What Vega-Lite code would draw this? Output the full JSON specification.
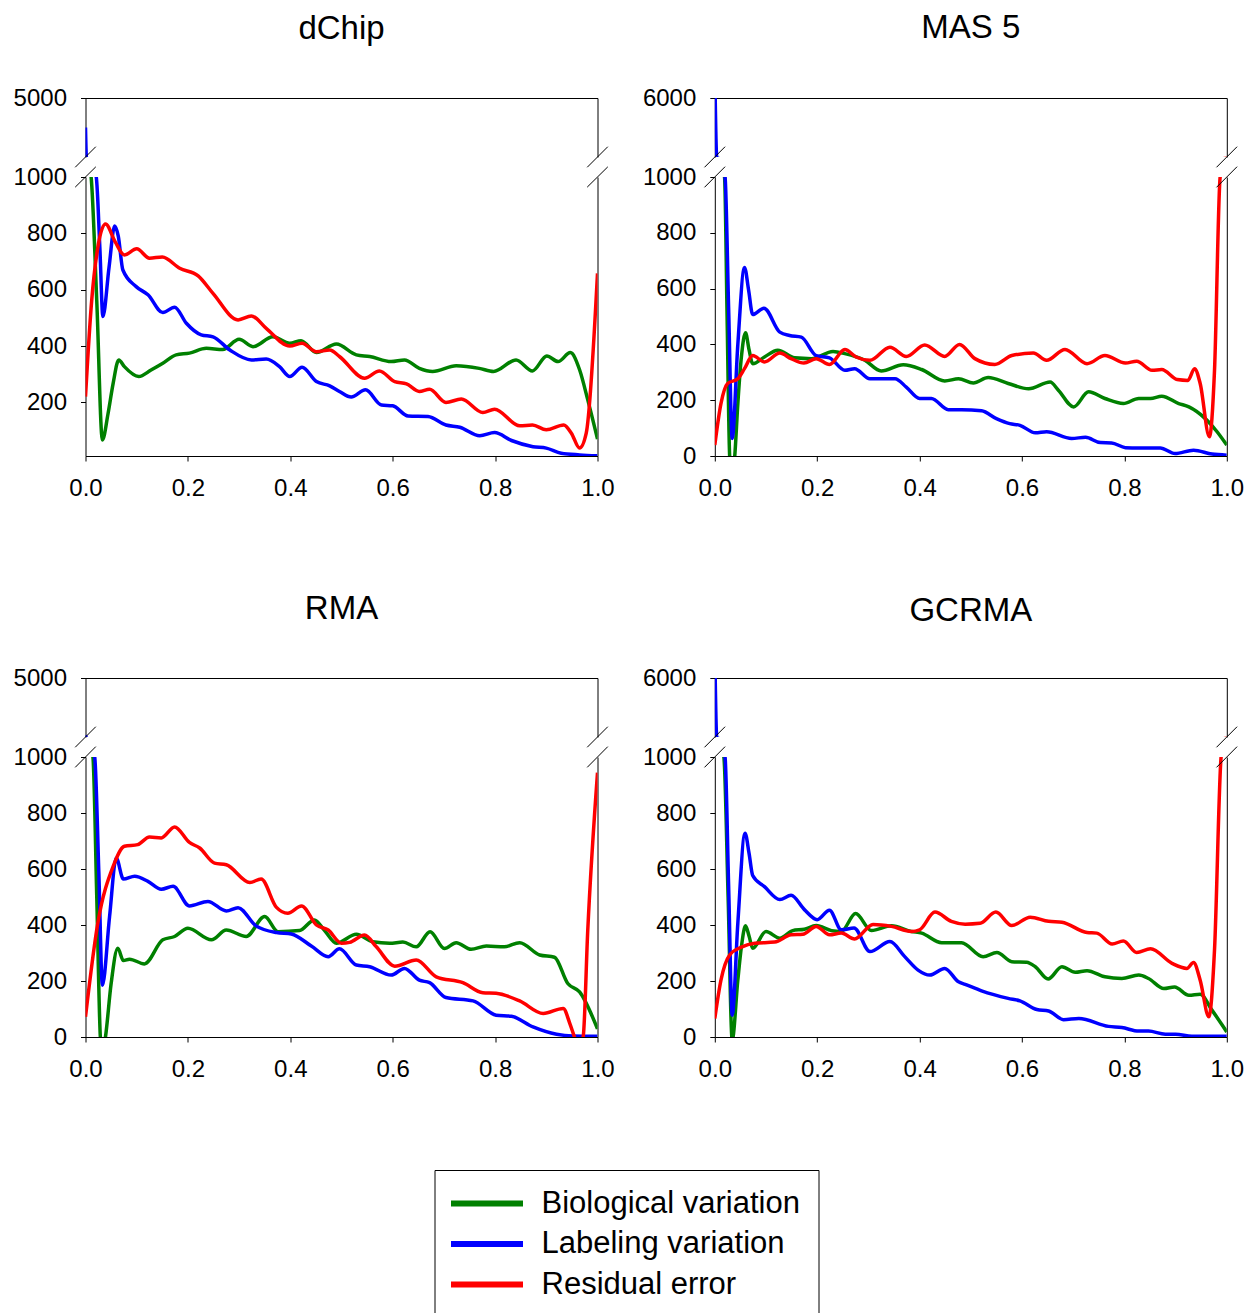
{
"$schema":"https://vega.github.io/schema/vega-lite/v6.json",
"padding":{"left":12.5,"top":12,"right":10,"bottom":0},
"config":{"font":"Liberation Sans","view":{"stroke":null},
"axis":{"grid":false,"domainColor":"#000","domainWidth":1,"tickColor":"#000","tickSize":5,"tickWidth":1,"labelFont":"Liberation Sans","labelFontSize":24,"labelColor":"#000","labelFlush":false,"labelOverlap":false}},
"datasets":{
"dchip":[
{"s":"B","x":0,"y":1100},{"s":"B","x":0.011,"y":1000},{"s":"B","x":0.022,"y":560},{"s":"B","x":0.033,"y":67},{"s":"B","x":0.044,"y":160},{"s":"B","x":0.054,"y":268},{"s":"B","x":0.065,"y":351},{"s":"B","x":0.076,"y":327},{"s":"B","x":0.104,"y":292},{"s":"B","x":0.128,"y":315},{"s":"B","x":0.151,"y":339},{"s":"B","x":0.177,"y":369},{"s":"B","x":0.203,"y":375},{"s":"B","x":0.236,"y":392},{"s":"B","x":0.268,"y":388},{"s":"B","x":0.3,"y":424},{"s":"B","x":0.327,"y":398},{"s":"B","x":0.366,"y":433},{"s":"B","x":0.399,"y":410},{"s":"B","x":0.421,"y":419},{"s":"B","x":0.451,"y":377},{"s":"B","x":0.49,"y":407},{"s":"B","x":0.529,"y":369},{"s":"B","x":0.555,"y":363},{"s":"B","x":0.597,"y":345},{"s":"B","x":0.623,"y":351},{"s":"B","x":0.652,"y":321},{"s":"B","x":0.678,"y":310},{"s":"B","x":0.724,"y":330},{"s":"B","x":0.769,"y":321},{"s":"B","x":0.797,"y":310},{"s":"B","x":0.841,"y":351},{"s":"B","x":0.873,"y":312},{"s":"B","x":0.901,"y":365},{"s":"B","x":0.923,"y":345},{"s":"B","x":0.947,"y":377},{"s":"B","x":0.965,"y":316},{"s":"B","x":0.981,"y":209},{"s":"B","x":1,"y":70},
{"s":"L","x":0,"y":3100},{"s":"L","x":0.002,"y":1100},{"s":"L","x":0.021,"y":1000},{"s":"L","x":0.028,"y":750},{"s":"L","x":0.034,"y":505},{"s":"L","x":0.046,"y":680},{"s":"L","x":0.057,"y":826},{"s":"L","x":0.064,"y":790},{"s":"L","x":0.073,"y":670},{"s":"L","x":0.099,"y":611},{"s":"L","x":0.122,"y":582},{"s":"L","x":0.151,"y":519},{"s":"L","x":0.174,"y":538},{"s":"L","x":0.197,"y":481},{"s":"L","x":0.226,"y":440},{"s":"L","x":0.249,"y":433},{"s":"L","x":0.282,"y":386},{"s":"L","x":0.324,"y":351},{"s":"L","x":0.353,"y":354},{"s":"L","x":0.379,"y":327},{"s":"L","x":0.399,"y":292},{"s":"L","x":0.423,"y":325},{"s":"L","x":0.451,"y":274},{"s":"L","x":0.477,"y":259},{"s":"L","x":0.496,"y":239},{"s":"L","x":0.519,"y":219},{"s":"L","x":0.547,"y":245},{"s":"L","x":0.578,"y":191},{"s":"L","x":0.6,"y":188},{"s":"L","x":0.63,"y":152},{"s":"L","x":0.669,"y":150},{"s":"L","x":0.704,"y":120},{"s":"L","x":0.731,"y":112},{"s":"L","x":0.77,"y":82},{"s":"L","x":0.799,"y":93},{"s":"L","x":0.832,"y":65},{"s":"L","x":0.874,"y":43},{"s":"L","x":0.9,"y":38},{"s":"L","x":0.929,"y":20},{"s":"L","x":0.965,"y":14},{"s":"L","x":1,"y":11},
{"s":"R","x":0,"y":221},{"s":"R","x":0.012,"y":560},{"s":"R","x":0.025,"y":760},{"s":"R","x":0.039,"y":833},{"s":"R","x":0.058,"y":770},{"s":"R","x":0.076,"y":723},{"s":"R","x":0.1,"y":745},{"s":"R","x":0.125,"y":712},{"s":"R","x":0.15,"y":716},{"s":"R","x":0.184,"y":676},{"s":"R","x":0.22,"y":649},{"s":"R","x":0.249,"y":587},{"s":"R","x":0.298,"y":493},{"s":"R","x":0.324,"y":507},{"s":"R","x":0.353,"y":463},{"s":"R","x":0.399,"y":400},{"s":"R","x":0.423,"y":410},{"s":"R","x":0.451,"y":380},{"s":"R","x":0.477,"y":386},{"s":"R","x":0.496,"y":363},{"s":"R","x":0.545,"y":286},{"s":"R","x":0.574,"y":312},{"s":"R","x":0.604,"y":274},{"s":"R","x":0.627,"y":266},{"s":"R","x":0.652,"y":239},{"s":"R","x":0.672,"y":247},{"s":"R","x":0.704,"y":200},{"s":"R","x":0.734,"y":212},{"s":"R","x":0.776,"y":164},{"s":"R","x":0.799,"y":176},{"s":"R","x":0.848,"y":117},{"s":"R","x":0.873,"y":120},{"s":"R","x":0.9,"y":103},{"s":"R","x":0.934,"y":120},{"s":"R","x":0.949,"y":91},{"s":"R","x":0.965,"y":38},{"s":"R","x":0.978,"y":91},{"s":"R","x":1,"y":658}
],
"mas5":[
{"s":"B","x":0,"y":1100},{"s":"B","x":0.019,"y":1000},{"s":"B","x":0.024,"y":500},{"s":"B","x":0.029,"y":0},{"s":"B","x":0.034,"y":-90},{"s":"B","x":0.039,"y":0},{"s":"B","x":0.045,"y":188},{"s":"B","x":0.052,"y":356},{"s":"B","x":0.06,"y":442},{"s":"B","x":0.067,"y":380},{"s":"B","x":0.074,"y":331},{"s":"B","x":0.097,"y":355},{"s":"B","x":0.123,"y":379},{"s":"B","x":0.156,"y":352},{"s":"B","x":0.189,"y":349},{"s":"B","x":0.231,"y":375},{"s":"B","x":0.254,"y":367},{"s":"B","x":0.293,"y":343},{"s":"B","x":0.325,"y":305},{"s":"B","x":0.368,"y":327},{"s":"B","x":0.404,"y":310},{"s":"B","x":0.449,"y":269},{"s":"B","x":0.476,"y":277},{"s":"B","x":0.505,"y":262},{"s":"B","x":0.534,"y":281},{"s":"B","x":0.573,"y":260},{"s":"B","x":0.613,"y":241},{"s":"B","x":0.655,"y":265},{"s":"B","x":0.671,"y":236},{"s":"B","x":0.701,"y":176},{"s":"B","x":0.73,"y":230},{"s":"B","x":0.762,"y":206},{"s":"B","x":0.798,"y":188},{"s":"B","x":0.828,"y":206},{"s":"B","x":0.851,"y":206},{"s":"B","x":0.873,"y":214},{"s":"B","x":0.906,"y":188},{"s":"B","x":0.926,"y":176},{"s":"B","x":0.958,"y":134},{"s":"B","x":0.981,"y":87},{"s":"B","x":1,"y":39},
{"s":"L","x":0,"y":8000},{"s":"L","x":0.004,"y":1100},{"s":"L","x":0.02,"y":1000},{"s":"L","x":0.027,"y":530},{"s":"L","x":0.034,"y":63},{"s":"L","x":0.045,"y":400},{"s":"L","x":0.058,"y":676},{"s":"L","x":0.066,"y":595},{"s":"L","x":0.074,"y":507},{"s":"L","x":0.096,"y":530},{"s":"L","x":0.127,"y":444},{"s":"L","x":0.146,"y":432},{"s":"L","x":0.169,"y":426},{"s":"L","x":0.198,"y":360},{"s":"L","x":0.224,"y":352},{"s":"L","x":0.254,"y":307},{"s":"L","x":0.273,"y":313},{"s":"L","x":0.303,"y":277},{"s":"L","x":0.352,"y":277},{"s":"L","x":0.374,"y":247},{"s":"L","x":0.4,"y":206},{"s":"L","x":0.423,"y":206},{"s":"L","x":0.456,"y":166},{"s":"L","x":0.482,"y":166},{"s":"L","x":0.521,"y":162},{"s":"L","x":0.55,"y":134},{"s":"L","x":0.576,"y":116},{"s":"L","x":0.596,"y":110},{"s":"L","x":0.626,"y":83},{"s":"L","x":0.648,"y":87},{"s":"L","x":0.697,"y":63},{"s":"L","x":0.724,"y":67},{"s":"L","x":0.753,"y":48},{"s":"L","x":0.775,"y":47},{"s":"L","x":0.802,"y":30},{"s":"L","x":0.828,"y":29},{"s":"L","x":0.87,"y":29},{"s":"L","x":0.899,"y":9},{"s":"L","x":0.935,"y":21},{"s":"L","x":0.971,"y":7},{"s":"L","x":1,"y":3},
{"s":"R","x":0,"y":39},{"s":"R","x":0.012,"y":188},{"s":"R","x":0.025,"y":260},{"s":"R","x":0.045,"y":277},{"s":"R","x":0.058,"y":313},{"s":"R","x":0.074,"y":360},{"s":"R","x":0.097,"y":337},{"s":"R","x":0.127,"y":369},{"s":"R","x":0.149,"y":349},{"s":"R","x":0.174,"y":333},{"s":"R","x":0.198,"y":349},{"s":"R","x":0.224,"y":328},{"s":"R","x":0.254,"y":382},{"s":"R","x":0.276,"y":355},{"s":"R","x":0.303,"y":343},{"s":"R","x":0.342,"y":390},{"s":"R","x":0.374,"y":357},{"s":"R","x":0.41,"y":398},{"s":"R","x":0.449,"y":357},{"s":"R","x":0.478,"y":400},{"s":"R","x":0.508,"y":349},{"s":"R","x":0.547,"y":328},{"s":"R","x":0.58,"y":360},{"s":"R","x":0.622,"y":369},{"s":"R","x":0.648,"y":343},{"s":"R","x":0.684,"y":382},{"s":"R","x":0.727,"y":331},{"s":"R","x":0.762,"y":360},{"s":"R","x":0.802,"y":333},{"s":"R","x":0.824,"y":340},{"s":"R","x":0.854,"y":307},{"s":"R","x":0.873,"y":310},{"s":"R","x":0.903,"y":274},{"s":"R","x":0.924,"y":271},{"s":"R","x":0.937,"y":313},{"s":"R","x":0.948,"y":260},{"s":"R","x":0.966,"y":69},{"s":"R","x":0.976,"y":307},{"s":"R","x":0.987,"y":1000},{"s":"R","x":1,"y":1100}
],
"rma":[
{"s":"B","x":0,"y":1100},{"s":"B","x":0.0145,"y":1000},{"s":"B","x":0.022,"y":500},{"s":"B","x":0.029,"y":0},{"s":"B","x":0.033,"y":-60},{"s":"B","x":0.039,"y":0},{"s":"B","x":0.05,"y":190},{"s":"B","x":0.063,"y":317},{"s":"B","x":0.074,"y":273},{"s":"B","x":0.086,"y":278},{"s":"B","x":0.115,"y":261},{"s":"B","x":0.151,"y":347},{"s":"B","x":0.174,"y":359},{"s":"B","x":0.2,"y":388},{"s":"B","x":0.246,"y":347},{"s":"B","x":0.275,"y":382},{"s":"B","x":0.314,"y":359},{"s":"B","x":0.35,"y":430},{"s":"B","x":0.376,"y":376},{"s":"B","x":0.418,"y":380},{"s":"B","x":0.447,"y":418},{"s":"B","x":0.467,"y":380},{"s":"B","x":0.49,"y":335},{"s":"B","x":0.529,"y":367},{"s":"B","x":0.561,"y":340},{"s":"B","x":0.594,"y":335},{"s":"B","x":0.62,"y":339},{"s":"B","x":0.646,"y":322},{"s":"B","x":0.673,"y":376},{"s":"B","x":0.701,"y":316},{"s":"B","x":0.724,"y":337},{"s":"B","x":0.753,"y":313},{"s":"B","x":0.783,"y":325},{"s":"B","x":0.818,"y":322},{"s":"B","x":0.848,"y":337},{"s":"B","x":0.887,"y":293},{"s":"B","x":0.916,"y":285},{"s":"B","x":0.942,"y":191},{"s":"B","x":0.965,"y":161},{"s":"B","x":1,"y":29},
{"s":"L","x":0,"y":1300},{"s":"L","x":0.003,"y":1100},{"s":"L","x":0.018,"y":1000},{"s":"L","x":0.026,"y":590},{"s":"L","x":0.033,"y":185},{"s":"L","x":0.047,"y":430},{"s":"L","x":0.06,"y":639},{"s":"L","x":0.074,"y":564},{"s":"L","x":0.096,"y":574},{"s":"L","x":0.122,"y":556},{"s":"L","x":0.148,"y":528},{"s":"L","x":0.171,"y":538},{"s":"L","x":0.203,"y":468},{"s":"L","x":0.239,"y":484},{"s":"L","x":0.275,"y":450},{"s":"L","x":0.298,"y":462},{"s":"L","x":0.333,"y":397},{"s":"L","x":0.373,"y":373},{"s":"L","x":0.402,"y":368},{"s":"L","x":0.441,"y":325},{"s":"L","x":0.474,"y":287},{"s":"L","x":0.496,"y":315},{"s":"L","x":0.529,"y":257},{"s":"L","x":0.555,"y":251},{"s":"L","x":0.597,"y":221},{"s":"L","x":0.623,"y":245},{"s":"L","x":0.652,"y":203},{"s":"L","x":0.672,"y":194},{"s":"L","x":0.704,"y":141},{"s":"L","x":0.757,"y":129},{"s":"L","x":0.802,"y":78},{"s":"L","x":0.832,"y":74},{"s":"L","x":0.874,"y":36},{"s":"L","x":0.92,"y":10},{"s":"L","x":0.952,"y":4},{"s":"L","x":1,"y":3},
{"s":"R","x":0,"y":72},{"s":"R","x":0.024,"y":406},{"s":"R","x":0.054,"y":609},{"s":"R","x":0.076,"y":681},{"s":"R","x":0.102,"y":687},{"s":"R","x":0.125,"y":714},{"s":"R","x":0.148,"y":711},{"s":"R","x":0.174,"y":750},{"s":"R","x":0.203,"y":695},{"s":"R","x":0.223,"y":675},{"s":"R","x":0.252,"y":621},{"s":"R","x":0.275,"y":615},{"s":"R","x":0.321,"y":552},{"s":"R","x":0.343,"y":564},{"s":"R","x":0.373,"y":463},{"s":"R","x":0.395,"y":442},{"s":"R","x":0.422,"y":468},{"s":"R","x":0.451,"y":400},{"s":"R","x":0.474,"y":382},{"s":"R","x":0.5,"y":335},{"s":"R","x":0.516,"y":338},{"s":"R","x":0.545,"y":364},{"s":"R","x":0.568,"y":322},{"s":"R","x":0.604,"y":253},{"s":"R","x":0.646,"y":275},{"s":"R","x":0.685,"y":215},{"s":"R","x":0.737,"y":194},{"s":"R","x":0.776,"y":158},{"s":"R","x":0.802,"y":156},{"s":"R","x":0.848,"y":129},{"s":"R","x":0.894,"y":84},{"s":"R","x":0.933,"y":102},{"s":"R","x":0.946,"y":48},{"s":"R","x":0.955,"y":0},{"s":"R","x":0.963,"y":-40},{"s":"R","x":0.972,"y":0},{"s":"R","x":0.981,"y":382},{"s":"R","x":1,"y":944}
],
"gcrma":[
{"s":"B","x":0,"y":1100},{"s":"B","x":0.0177,"y":1000},{"s":"B","x":0.026,"y":500},{"s":"B","x":0.034,"y":-10},{"s":"B","x":0.045,"y":204},{"s":"B","x":0.052,"y":323},{"s":"B","x":0.06,"y":397},{"s":"B","x":0.067,"y":360},{"s":"B","x":0.074,"y":317},{"s":"B","x":0.1,"y":377},{"s":"B","x":0.127,"y":353},{"s":"B","x":0.152,"y":380},{"s":"B","x":0.175,"y":385},{"s":"B","x":0.198,"y":398},{"s":"B","x":0.228,"y":380},{"s":"B","x":0.247,"y":377},{"s":"B","x":0.275,"y":441},{"s":"B","x":0.306,"y":380},{"s":"B","x":0.345,"y":397},{"s":"B","x":0.384,"y":377},{"s":"B","x":0.404,"y":371},{"s":"B","x":0.443,"y":337},{"s":"B","x":0.482,"y":337},{"s":"B","x":0.524,"y":287},{"s":"B","x":0.551,"y":302},{"s":"B","x":0.58,"y":269},{"s":"B","x":0.609,"y":267},{"s":"B","x":0.626,"y":251},{"s":"B","x":0.651,"y":207},{"s":"B","x":0.678,"y":251},{"s":"B","x":0.704,"y":231},{"s":"B","x":0.727,"y":237},{"s":"B","x":0.762,"y":215},{"s":"B","x":0.795,"y":209},{"s":"B","x":0.828,"y":221},{"s":"B","x":0.847,"y":209},{"s":"B","x":0.877,"y":173},{"s":"B","x":0.898,"y":179},{"s":"B","x":0.926,"y":149},{"s":"B","x":0.948,"y":153},{"s":"B","x":0.971,"y":96},{"s":"B","x":1,"y":18},
{"s":"L","x":0,"y":8000},{"s":"L","x":0.004,"y":1100},{"s":"L","x":0.02,"y":1000},{"s":"L","x":0.027,"y":540},{"s":"L","x":0.034,"y":78},{"s":"L","x":0.045,"y":407},{"s":"L","x":0.059,"y":728},{"s":"L","x":0.067,"y":655},{"s":"L","x":0.074,"y":577},{"s":"L","x":0.097,"y":537},{"s":"L","x":0.127,"y":491},{"s":"L","x":0.149,"y":506},{"s":"L","x":0.175,"y":455},{"s":"L","x":0.2,"y":419},{"s":"L","x":0.224,"y":453},{"s":"L","x":0.247,"y":383},{"s":"L","x":0.272,"y":389},{"s":"L","x":0.303,"y":305},{"s":"L","x":0.342,"y":341},{"s":"L","x":0.371,"y":287},{"s":"L","x":0.397,"y":239},{"s":"L","x":0.42,"y":221},{"s":"L","x":0.449,"y":245},{"s":"L","x":0.476,"y":197},{"s":"L","x":0.489,"y":188},{"s":"L","x":0.521,"y":165},{"s":"L","x":0.573,"y":138},{"s":"L","x":0.596,"y":129},{"s":"L","x":0.629,"y":98},{"s":"L","x":0.652,"y":93},{"s":"L","x":0.681,"y":62},{"s":"L","x":0.711,"y":66},{"s":"L","x":0.769,"y":38},{"s":"L","x":0.795,"y":34},{"s":"L","x":0.828,"y":21},{"s":"L","x":0.847,"y":21},{"s":"L","x":0.88,"y":10},{"s":"L","x":0.9,"y":10},{"s":"L","x":0.932,"y":3},{"s":"L","x":1,"y":3},
{"s":"R","x":0,"y":66},{"s":"R","x":0.012,"y":203},{"s":"R","x":0.029,"y":293},{"s":"R","x":0.052,"y":321},{"s":"R","x":0.078,"y":335},{"s":"R","x":0.117,"y":339},{"s":"R","x":0.149,"y":365},{"s":"R","x":0.172,"y":367},{"s":"R","x":0.198,"y":395},{"s":"R","x":0.224,"y":365},{"s":"R","x":0.247,"y":371},{"s":"R","x":0.273,"y":350},{"s":"R","x":0.309,"y":402},{"s":"R","x":0.345,"y":395},{"s":"R","x":0.384,"y":377},{"s":"R","x":0.4,"y":383},{"s":"R","x":0.43,"y":446},{"s":"R","x":0.462,"y":413},{"s":"R","x":0.489,"y":403},{"s":"R","x":0.518,"y":406},{"s":"R","x":0.549,"y":446},{"s":"R","x":0.58,"y":398},{"s":"R","x":0.616,"y":428},{"s":"R","x":0.652,"y":413},{"s":"R","x":0.678,"y":410},{"s":"R","x":0.727,"y":373},{"s":"R","x":0.746,"y":371},{"s":"R","x":0.776,"y":332},{"s":"R","x":0.798,"y":343},{"s":"R","x":0.824,"y":302},{"s":"R","x":0.851,"y":315},{"s":"R","x":0.893,"y":263},{"s":"R","x":0.922,"y":245},{"s":"R","x":0.935,"y":266},{"s":"R","x":0.948,"y":203},{"s":"R","x":0.965,"y":72},{"s":"R","x":0.976,"y":311},{"s":"R","x":0.989,"y":1003},{"s":"R","x":1,"y":1100}
]
},
"spacing":93,
"vconcat":[
{"spacing":27.3,"hconcat":[
{"spacing":20,"bounds":"flush","vconcat":[
{"width":512,"height":59,
"title":{"text":"dChip","fontSize":33,"fontWeight":"normal","font":"Liberation Sans","anchor":"middle","frame":"group","offset":14,"baseline":"alphabetic","color":"#000"},
"resolve":{"axis":{"y":"independent"}},
"layer":[
{"data":{"name":"dchip"},"mark":{"type":"line","interpolate":"monotone","clip":true,"strokeWidth":3.5},
"encoding":{"x":{"field":"x","type":"quantitative","scale":{"domain":[0,1],"nice":false},"axis":{"orient":"top","labels":false,"ticks":false,"title":null}},
"y":{"field":"y","type":"quantitative","scale":{"domain":[1200,5000],"nice":false,"zero":false},"axis":{"values":[5000],"format":"d","title":null,"labelPadding":14}},
"color":{"field":"s","type":"nominal","scale":{"domain":["B","L","R"],"range":["#008000","#0000ff","#ff0000"]},"legend":{"orient":"none","legendX":349,"legendY":1072,"title":null,"labelExpr":"datum.label == 'B' ? 'Biological variation' : datum.label == 'L' ? 'Labeling variation' : 'Residual error'","labelFont":"Liberation Sans","labelFontSize":31,"labelColor":"#000","labelLimit":0,"symbolType":"M-5,0H1","symbolSize":576,"symbolStrokeWidth":6,"symbolOffset":43,"labelOffset":15,"padding":18,"rowPadding":8.5,"strokeColor":"#000","fillColor":"#fff"}}}},
{"data":{"values":[{}]},"mark":{"type":"rule","color":"#000","strokeWidth":1},"encoding":{"x":{"datum":-0.0201,"type":"quantitative","axis":{"orient":"top","labels":false,"ticks":false,"title":null}},"x2":{"datum":0.0201},"y":{"datum":537,"type":"quantitative","axis":null},"y2":{"datum":1863}}},
{"data":{"values":[{}]},"mark":{"type":"rule","color":"#000","strokeWidth":1},"encoding":{"x":{"datum":0.9799,"type":"quantitative","axis":{"orient":"top","labels":false,"ticks":false,"title":null}},"x2":{"datum":1.0201},"y":{"datum":537,"type":"quantitative","axis":{"orient":"right","labels":false,"ticks":false,"title":null}},"y2":{"datum":1863}}}
]},
{"width":512,"height":279,
"resolve":{"axis":{"y":"independent"}},
"layer":[
{"data":{"name":"dchip"},"mark":{"type":"line","interpolate":"monotone","clip":true,"strokeWidth":3.5},
"encoding":{"x":{"field":"x","type":"quantitative","scale":{"domain":[0,1],"nice":false},"axis":{"values":[0,0.2,0.4,0.6,0.8,1],"format":".1f","title":null,"labelPadding":15}},
"y":{"field":"y","type":"quantitative","scale":{"domain":[10,1000],"nice":false,"zero":false},"axis":{"values":[200,400,600,800,1000],"format":"d","title":null,"labelPadding":14}},
"color":{"field":"s","type":"nominal","scale":{"domain":["B","L","R"],"range":["#008000","#0000ff","#ff0000"]},"legend":{"orient":"none","legendX":349,"legendY":1072,"title":null,"labelExpr":"datum.label == 'B' ? 'Biological variation' : datum.label == 'L' ? 'Labeling variation' : 'Residual error'","labelFont":"Liberation Sans","labelFontSize":31,"labelColor":"#000","labelLimit":0,"symbolType":"M-5,0H1","symbolSize":576,"symbolStrokeWidth":6,"symbolOffset":43,"labelOffset":15,"padding":18,"rowPadding":8.5,"strokeColor":"#000","fillColor":"#fff"}}}},
{"data":{"values":[{}]},"mark":{"type":"rule","color":"#000","strokeWidth":1},"encoding":{"x":{"datum":-0.0201,"type":"quantitative","axis":{"values":[0,0.2,0.4,0.6,0.8,1],"format":".1f","title":null,"labelPadding":15}},"x2":{"datum":0.0201},"y":{"datum":964,"type":"quantitative","axis":null},"y2":{"datum":1036}}},
{"data":{"values":[{}]},"mark":{"type":"rule","color":"#000","strokeWidth":1},"encoding":{"x":{"datum":0.9799,"type":"quantitative","axis":{"values":[0,0.2,0.4,0.6,0.8,1],"format":".1f","title":null,"labelPadding":15}},"x2":{"datum":1.0201},"y":{"datum":964,"type":"quantitative","axis":{"orient":"right","labels":false,"ticks":false,"title":null}},"y2":{"datum":1036}}}
]}
]},
{"spacing":20,"bounds":"flush","vconcat":[
{"width":512,"height":59,
"title":{"text":"MAS 5","fontSize":33,"fontWeight":"normal","font":"Liberation Sans","anchor":"middle","frame":"group","offset":15,"baseline":"alphabetic","color":"#000"},
"resolve":{"axis":{"y":"independent"}},
"layer":[
{"data":{"name":"mas5"},"mark":{"type":"line","interpolate":"monotone","clip":true,"strokeWidth":3.5},
"encoding":{"x":{"field":"x","type":"quantitative","scale":{"domain":[0,1],"nice":false},"axis":{"orient":"top","labels":false,"ticks":false,"title":null}},
"y":{"field":"y","type":"quantitative","scale":{"domain":[1200,6000],"nice":false,"zero":false},"axis":{"values":[6000],"format":"d","title":null,"labelPadding":14}},
"color":{"field":"s","type":"nominal","scale":{"domain":["B","L","R"],"range":["#008000","#0000ff","#ff0000"]},"legend":{"orient":"none","legendX":349,"legendY":1072,"title":null,"labelExpr":"datum.label == 'B' ? 'Biological variation' : datum.label == 'L' ? 'Labeling variation' : 'Residual error'","labelFont":"Liberation Sans","labelFontSize":31,"labelColor":"#000","labelLimit":0,"symbolType":"M-5,0H1","symbolSize":576,"symbolStrokeWidth":6,"symbolOffset":43,"labelOffset":15,"padding":18,"rowPadding":8.5,"strokeColor":"#000","fillColor":"#fff"}}}},
{"data":{"values":[{}]},"mark":{"type":"rule","color":"#000","strokeWidth":1},"encoding":{"x":{"datum":-0.0201,"type":"quantitative","axis":{"orient":"top","labels":false,"ticks":false,"title":null}},"x2":{"datum":0.0201},"y":{"datum":362,"type":"quantitative","axis":null},"y2":{"datum":2038}}},
{"data":{"values":[{}]},"mark":{"type":"rule","color":"#000","strokeWidth":1},"encoding":{"x":{"datum":0.9799,"type":"quantitative","axis":{"orient":"top","labels":false,"ticks":false,"title":null}},"x2":{"datum":1.0201},"y":{"datum":362,"type":"quantitative","axis":{"orient":"right","labels":false,"ticks":false,"title":null}},"y2":{"datum":2038}}}
]},
{"width":512,"height":279,
"resolve":{"axis":{"y":"independent"}},
"layer":[
{"data":{"name":"mas5"},"mark":{"type":"line","interpolate":"monotone","clip":true,"strokeWidth":3.5},
"encoding":{"x":{"field":"x","type":"quantitative","scale":{"domain":[0,1],"nice":false},"axis":{"values":[0,0.2,0.4,0.6,0.8,1],"format":".1f","title":null,"labelPadding":15}},
"y":{"field":"y","type":"quantitative","scale":{"domain":[0,1000],"nice":false,"zero":false},"axis":{"values":[0,200,400,600,800,1000],"format":"d","title":null,"labelPadding":14}},
"color":{"field":"s","type":"nominal","scale":{"domain":["B","L","R"],"range":["#008000","#0000ff","#ff0000"]},"legend":{"orient":"none","legendX":349,"legendY":1072,"title":null,"labelExpr":"datum.label == 'B' ? 'Biological variation' : datum.label == 'L' ? 'Labeling variation' : 'Residual error'","labelFont":"Liberation Sans","labelFontSize":31,"labelColor":"#000","labelLimit":0,"symbolType":"M-5,0H1","symbolSize":576,"symbolStrokeWidth":6,"symbolOffset":43,"labelOffset":15,"padding":18,"rowPadding":8.5,"strokeColor":"#000","fillColor":"#fff"}}}},
{"data":{"values":[{}]},"mark":{"type":"rule","color":"#000","strokeWidth":1},"encoding":{"x":{"datum":-0.0201,"type":"quantitative","axis":{"values":[0,0.2,0.4,0.6,0.8,1],"format":".1f","title":null,"labelPadding":15}},"x2":{"datum":0.0201},"y":{"datum":963,"type":"quantitative","axis":null},"y2":{"datum":1037}}},
{"data":{"values":[{}]},"mark":{"type":"rule","color":"#000","strokeWidth":1},"encoding":{"x":{"datum":0.9799,"type":"quantitative","axis":{"values":[0,0.2,0.4,0.6,0.8,1],"format":".1f","title":null,"labelPadding":15}},"x2":{"datum":1.0201},"y":{"datum":963,"type":"quantitative","axis":{"orient":"right","labels":false,"ticks":false,"title":null}},"y2":{"datum":1037}}}
]}
]}
]},
{"spacing":27.3,"hconcat":[
{"spacing":20,"bounds":"flush","vconcat":[
{"width":512,"height":59,
"title":{"text":"RMA","fontSize":33,"fontWeight":"normal","font":"Liberation Sans","anchor":"middle","frame":"group","offset":14,"baseline":"alphabetic","color":"#000"},
"resolve":{"axis":{"y":"independent"}},
"layer":[
{"data":{"name":"rma"},"mark":{"type":"line","interpolate":"monotone","clip":true,"strokeWidth":3.5},
"encoding":{"x":{"field":"x","type":"quantitative","scale":{"domain":[0,1],"nice":false},"axis":{"orient":"top","labels":false,"ticks":false,"title":null}},
"y":{"field":"y","type":"quantitative","scale":{"domain":[1200,5000],"nice":false,"zero":false},"axis":{"values":[5000],"format":"d","title":null,"labelPadding":14}},
"color":{"field":"s","type":"nominal","scale":{"domain":["B","L","R"],"range":["#008000","#0000ff","#ff0000"]},"legend":{"orient":"none","legendX":349,"legendY":1072,"title":null,"labelExpr":"datum.label == 'B' ? 'Biological variation' : datum.label == 'L' ? 'Labeling variation' : 'Residual error'","labelFont":"Liberation Sans","labelFontSize":31,"labelColor":"#000","labelLimit":0,"symbolType":"M-5,0H1","symbolSize":576,"symbolStrokeWidth":6,"symbolOffset":43,"labelOffset":15,"padding":18,"rowPadding":8.5,"strokeColor":"#000","fillColor":"#fff"}}}},
{"data":{"values":[{}]},"mark":{"type":"rule","color":"#000","strokeWidth":1},"encoding":{"x":{"datum":-0.0201,"type":"quantitative","axis":{"orient":"top","labels":false,"ticks":false,"title":null}},"x2":{"datum":0.0201},"y":{"datum":537,"type":"quantitative","axis":null},"y2":{"datum":1863}}},
{"data":{"values":[{}]},"mark":{"type":"rule","color":"#000","strokeWidth":1},"encoding":{"x":{"datum":0.9799,"type":"quantitative","axis":{"orient":"top","labels":false,"ticks":false,"title":null}},"x2":{"datum":1.0201},"y":{"datum":537,"type":"quantitative","axis":{"orient":"right","labels":false,"ticks":false,"title":null}},"y2":{"datum":1863}}}
]},
{"width":512,"height":280,
"resolve":{"axis":{"y":"independent"}},
"layer":[
{"data":{"name":"rma"},"mark":{"type":"line","interpolate":"monotone","clip":true,"strokeWidth":3.5},
"encoding":{"x":{"field":"x","type":"quantitative","scale":{"domain":[0,1],"nice":false},"axis":{"values":[0,0.2,0.4,0.6,0.8,1],"format":".1f","title":null,"labelPadding":15}},
"y":{"field":"y","type":"quantitative","scale":{"domain":[0,1000],"nice":false,"zero":false},"axis":{"values":[0,200,400,600,800,1000],"format":"d","title":null,"labelPadding":14}},
"color":{"field":"s","type":"nominal","scale":{"domain":["B","L","R"],"range":["#008000","#0000ff","#ff0000"]},"legend":{"orient":"none","legendX":349,"legendY":1072,"title":null,"labelExpr":"datum.label == 'B' ? 'Biological variation' : datum.label == 'L' ? 'Labeling variation' : 'Residual error'","labelFont":"Liberation Sans","labelFontSize":31,"labelColor":"#000","labelLimit":0,"symbolType":"M-5,0H1","symbolSize":576,"symbolStrokeWidth":6,"symbolOffset":43,"labelOffset":15,"padding":18,"rowPadding":8.5,"strokeColor":"#000","fillColor":"#fff"}}}},
{"data":{"values":[{}]},"mark":{"type":"rule","color":"#000","strokeWidth":1},"encoding":{"x":{"datum":-0.0201,"type":"quantitative","axis":{"values":[0,0.2,0.4,0.6,0.8,1],"format":".1f","title":null,"labelPadding":15}},"x2":{"datum":0.0201},"y":{"datum":963,"type":"quantitative","axis":null},"y2":{"datum":1037}}},
{"data":{"values":[{}]},"mark":{"type":"rule","color":"#000","strokeWidth":1},"encoding":{"x":{"datum":0.9799,"type":"quantitative","axis":{"values":[0,0.2,0.4,0.6,0.8,1],"format":".1f","title":null,"labelPadding":15}},"x2":{"datum":1.0201},"y":{"datum":963,"type":"quantitative","axis":{"orient":"right","labels":false,"ticks":false,"title":null}},"y2":{"datum":1037}}}
]}
]},
{"spacing":20,"bounds":"flush","vconcat":[
{"width":512,"height":59,
"title":{"text":"GCRMA","fontSize":33,"fontWeight":"normal","font":"Liberation Sans","anchor":"middle","frame":"group","offset":12,"baseline":"alphabetic","color":"#000"},
"resolve":{"axis":{"y":"independent"}},
"layer":[
{"data":{"name":"gcrma"},"mark":{"type":"line","interpolate":"monotone","clip":true,"strokeWidth":3.5},
"encoding":{"x":{"field":"x","type":"quantitative","scale":{"domain":[0,1],"nice":false},"axis":{"orient":"top","labels":false,"ticks":false,"title":null}},
"y":{"field":"y","type":"quantitative","scale":{"domain":[1200,6000],"nice":false,"zero":false},"axis":{"values":[6000],"format":"d","title":null,"labelPadding":14}},
"color":{"field":"s","type":"nominal","scale":{"domain":["B","L","R"],"range":["#008000","#0000ff","#ff0000"]},"legend":{"orient":"none","legendX":349,"legendY":1072,"title":null,"labelExpr":"datum.label == 'B' ? 'Biological variation' : datum.label == 'L' ? 'Labeling variation' : 'Residual error'","labelFont":"Liberation Sans","labelFontSize":31,"labelColor":"#000","labelLimit":0,"symbolType":"M-5,0H1","symbolSize":576,"symbolStrokeWidth":6,"symbolOffset":43,"labelOffset":15,"padding":18,"rowPadding":8.5,"strokeColor":"#000","fillColor":"#fff"}}}},
{"data":{"values":[{}]},"mark":{"type":"rule","color":"#000","strokeWidth":1},"encoding":{"x":{"datum":-0.0201,"type":"quantitative","axis":{"orient":"top","labels":false,"ticks":false,"title":null}},"x2":{"datum":0.0201},"y":{"datum":362,"type":"quantitative","axis":null},"y2":{"datum":2038}}},
{"data":{"values":[{}]},"mark":{"type":"rule","color":"#000","strokeWidth":1},"encoding":{"x":{"datum":0.9799,"type":"quantitative","axis":{"orient":"top","labels":false,"ticks":false,"title":null}},"x2":{"datum":1.0201},"y":{"datum":362,"type":"quantitative","axis":{"orient":"right","labels":false,"ticks":false,"title":null}},"y2":{"datum":2038}}}
]},
{"width":512,"height":280,
"resolve":{"axis":{"y":"independent"}},
"layer":[
{"data":{"name":"gcrma"},"mark":{"type":"line","interpolate":"monotone","clip":true,"strokeWidth":3.5},
"encoding":{"x":{"field":"x","type":"quantitative","scale":{"domain":[0,1],"nice":false},"axis":{"values":[0,0.2,0.4,0.6,0.8,1],"format":".1f","title":null,"labelPadding":15}},
"y":{"field":"y","type":"quantitative","scale":{"domain":[0,1000],"nice":false,"zero":false},"axis":{"values":[0,200,400,600,800,1000],"format":"d","title":null,"labelPadding":14}},
"color":{"field":"s","type":"nominal","scale":{"domain":["B","L","R"],"range":["#008000","#0000ff","#ff0000"]},"legend":{"orient":"none","legendX":349,"legendY":1072,"title":null,"labelExpr":"datum.label == 'B' ? 'Biological variation' : datum.label == 'L' ? 'Labeling variation' : 'Residual error'","labelFont":"Liberation Sans","labelFontSize":31,"labelColor":"#000","labelLimit":0,"symbolType":"M-5,0H1","symbolSize":576,"symbolStrokeWidth":6,"symbolOffset":43,"labelOffset":15,"padding":18,"rowPadding":8.5,"strokeColor":"#000","fillColor":"#fff"}}}},
{"data":{"values":[{}]},"mark":{"type":"rule","color":"#000","strokeWidth":1},"encoding":{"x":{"datum":-0.0201,"type":"quantitative","axis":{"values":[0,0.2,0.4,0.6,0.8,1],"format":".1f","title":null,"labelPadding":15}},"x2":{"datum":0.0201},"y":{"datum":963,"type":"quantitative","axis":null},"y2":{"datum":1037}}},
{"data":{"values":[{}]},"mark":{"type":"rule","color":"#000","strokeWidth":1},"encoding":{"x":{"datum":0.9799,"type":"quantitative","axis":{"values":[0,0.2,0.4,0.6,0.8,1],"format":".1f","title":null,"labelPadding":15}},"x2":{"datum":1.0201},"y":{"datum":963,"type":"quantitative","axis":{"orient":"right","labels":false,"ticks":false,"title":null}},"y2":{"datum":1037}}}
]}
]}
]}
]
}
